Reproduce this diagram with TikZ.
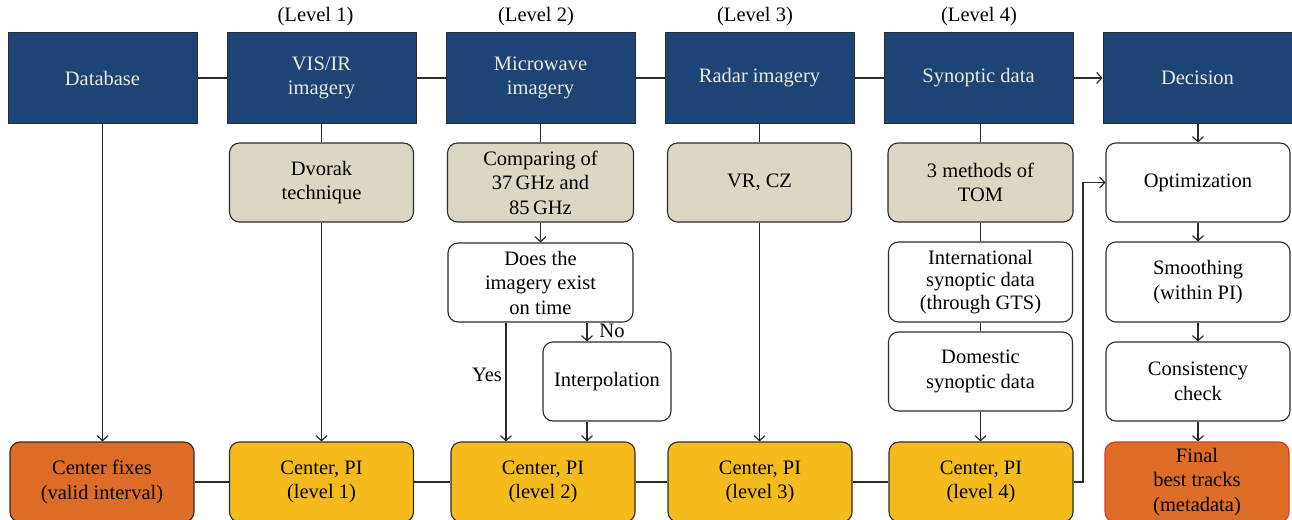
\documentclass[tikz,border=0pt]{standalone}
\usepackage{fontspec}
\setmainfont{Liberation Serif}
\usetikzlibrary{arrows.meta,calc}
\definecolor{topblue}{RGB}{28,69,117}
\definecolor{toptext}{RGB}{236,232,220}
\definecolor{tan}{RGB}{219,215,196}
\definecolor{orng}{RGB}{221,108,38}
\definecolor{yel}{RGB}{245,187,28}
\definecolor{redb}{RGB}{232,50,42}
\definecolor{ln}{RGB}{43,43,43}
\tikzset{
  x=1pt,y=-1pt,
  every node/.style={font=\fontsize{20.5}{24.5}\selectfont, align=center, inner sep=0pt},
  topbox/.style={draw=ln, line width=1pt, fill=topblue, text=toptext, minimum width=189, minimum height=90},
  tanbox/.style={draw=ln, line width=1.1pt, fill=tan, rounded corners=10, minimum width=184, minimum height=79},
  whitebox/.style={draw=ln, line width=1.1pt, fill=white, rounded corners=10, minimum width=184, minimum height=79},
  pibox/.style={draw=ln, line width=1.1pt, fill=yel, rounded corners=10, minimum width=184, minimum height=80},
  orbox/.style={draw=ln, line width=1.1pt, fill=orng, rounded corners=10, minimum width=184, minimum height=80},
  conn/.style={draw=ln, line width=1.2pt},
  arr/.style={conn, -{Straight Barb[length=5pt,width=11pt]}},
  lvl/.style={text=black}
}
\begin{document}
\begin{tikzpicture}
\useasboundingbox (0,0) rectangle (1292,519);
% top row
\node[topbox] (db) at (102.5,78) {Database};
\node[topbox] (vis) at (321.5,78) {VIS/IR\\imagery};
\node[topbox] (mw) at (540.5,78) {Microwave\\imagery};
\node[topbox] (rad) at (759.5,78) {Radar imagery};
\node[topbox] (syn) at (978.5,78) {Synoptic data};
\node[topbox] (dec) at (1197.5,78) {Decision};
\node[lvl] (l1) at (315.5,17) {(Level 1)};
\node[lvl] (l2) at (536,17) {(Level 2)};
\node[lvl] (l3) at (755,17) {(Level 3)};
\node[lvl] (l4) at (979,17) {(Level 4)};
% middle
\node[tanbox] (dvo) at (321.5,182.5) {Dvorak\\technique};
\node[tanbox, minimum width=186] (cmp) at (540.5,182.5) {Comparing of\\37\,GHz and\\85\,GHz};
\node[tanbox] (vr) at (759.5,182.5) {VR, CZ};
\node[tanbox, minimum width=185] (tom) at (980.5,182.5) {3 methods of\\TOM};
\node[whitebox] (opt) at (1198,182.5) {Optimization};
\node[whitebox, minimum width=185] (does) at (540.5,282.5) {Does the\\imagery exist\\on time};
\node[whitebox, minimum width=128] (intp) at (607,381.5) {Interpolation};
\node[whitebox, minimum width=184, minimum height=80, font=\fontsize{20.5}{22.5}\selectfont] (intl) at (980.5,282) {International\\synoptic data\\(through GTS)};
\node[whitebox, minimum width=184] (dom) at (980.5,371.5) {Domestic\\synoptic data};
\node[whitebox, minimum height=80] (smo) at (1198,282) {Smoothing\\(within PI)};
\node[whitebox] (cons) at (1198,381.5) {Consistency\\check};
% bottom
\node[orbox] (cf) at (102,482) {Center fixes\\(valid interval)};
\node[pibox] (pi1) at (321.5,482) {Center, PI\\(level 1)};
\node[pibox] (pi2) at (543,482) {Center, PI\\(level 2)};
\node[pibox] (pi3) at (760,482) {Center, PI\\(level 3)};
\node[pibox] (pi4) at (981,482) {Center, PI\\(level 4)};
\node[orbox, draw=redb] (fin) at (1197,482) {Final\\best tracks\\(metadata)};
% labels
\node (yes) at (487,375) {Yes};
\node (no) at (612,331) {No};
% coordinates
\coordinate (yesx) at (506,0);
\coordinate (nox) at (587,0);
\coordinate (bendx) at (1083,0);
% top connectors
\draw[conn] (db) -- (vis);
\draw[conn] (vis) -- (mw);
\draw[conn] (mw) -- (rad);
\draw[conn] (rad) -- (syn);
\draw[arr] (syn) -- (dec);
% verticals
\draw[arr] (db.south) -- (cf.north -| db.south);
\draw[conn] (vis.south) -- (dvo.north);
\draw[arr] (dvo.south) -- (pi1.north);
\draw[conn] (mw.south) -- (cmp.north);
\draw[arr] (cmp.south) -- (does.north);
\draw[arr] (does.south -| yesx) -- (pi2.north -| yesx);
\draw[arr] (does.south -| nox) -- (intp.north -| nox);
\draw[arr] (intp.south -| nox) -- (pi2.north -| nox);
\draw[conn] (rad.south -| vr.north) -- (vr.north);
\draw[arr] (vr.south) -- (pi3.north -| vr.south);
\draw[conn] (syn.south -| tom.north) -- (tom.north);
\draw[conn] (tom.south) -- (intl.north);
\draw[conn] (intl.south) -- (dom.north);
\draw[arr] (dom.south) -- (pi4.north -| dom.south);
\draw[arr] (dec.south -| opt.north) -- (opt.north);
\draw[arr] (opt.south) -- (smo.north);
\draw[arr] (smo.south) -- (cons.north);
\draw[arr] (cons.south) -- (fin.north -| cons.south);
\draw[arr] (pi4.east) -- (pi4.east -| bendx) |- (opt.west);
% bottom row
\draw[conn] (cf) -- (pi1);
\draw[conn] (pi1) -- (pi2);
\draw[conn] (pi2) -- (pi3);
\draw[conn] (pi3) -- (pi4);
\end{tikzpicture}
\end{document}
